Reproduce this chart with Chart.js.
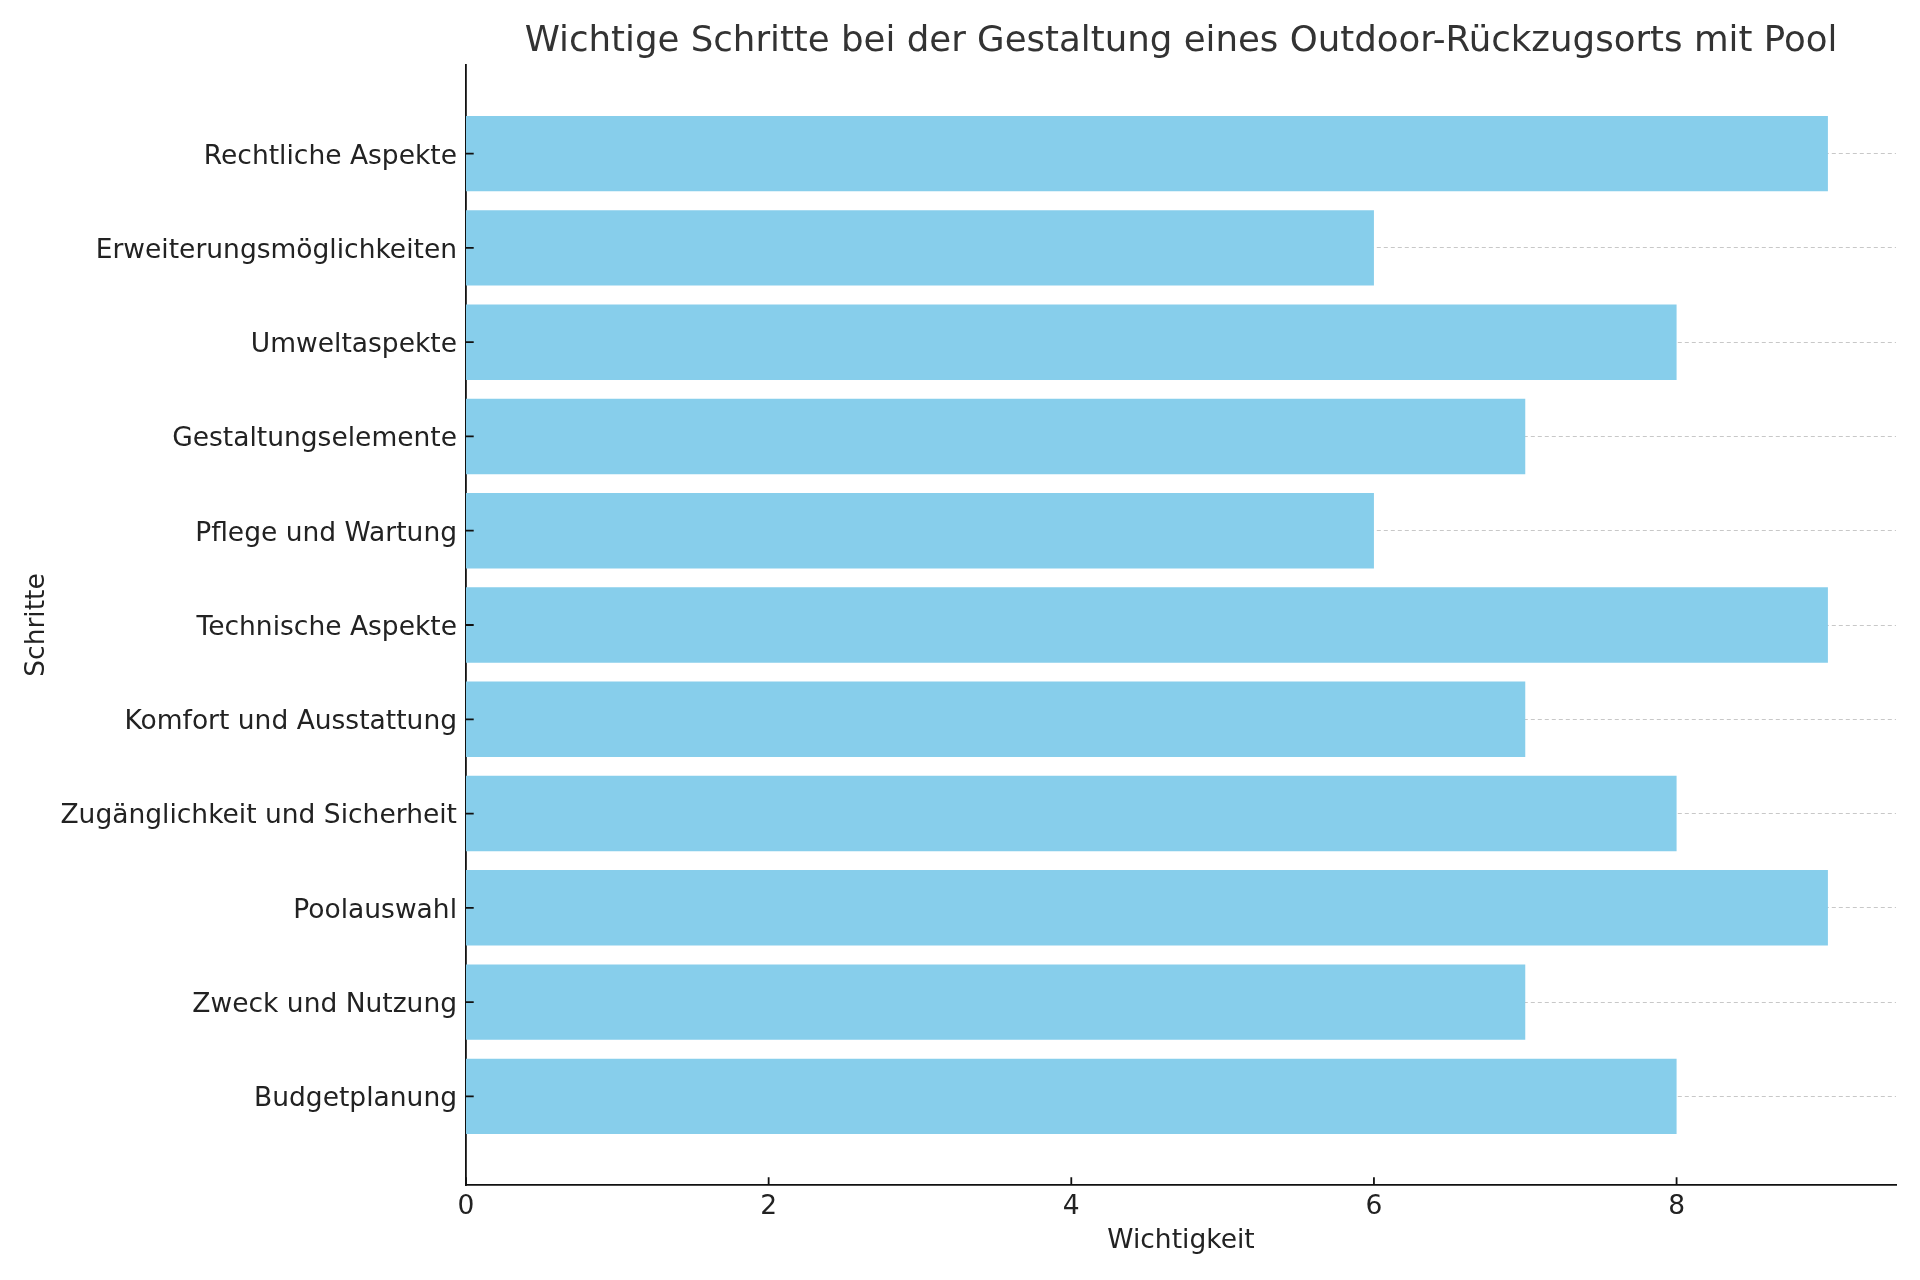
<!DOCTYPE html>
<html>
<head>
<meta charset="utf-8">
<script src="https://cdn.jsdelivr.net/npm/chart.js@4/dist/chart.umd.min.js"></script>
<style>
html,body{margin:0;padding:0;background:#fff;}
#wrap{width:1920px;height:1280px;}
</style>
</head>
<body>
<div id="wrap"><canvas id="c" width="1920" height="1280"></canvas></div>
<script>
const chartTitle = 'Wichtige Schritte bei der Gestaltung eines Outdoor-Rückzugsorts mit Pool';
const xAxisTitle = 'Wichtigkeit';
const yAxisTitle = 'Schritte';
// bottom to top
const categories = [
  'Budgetplanung',
  'Zweck und Nutzung',
  'Poolauswahl',
  'Zugänglichkeit und Sicherheit',
  'Komfort und Ausstattung',
  'Technische Aspekte',
  'Pflege und Wartung',
  'Gestaltungselemente',
  'Umweltaspekte',
  'Erweiterungsmöglichkeiten',
  'Rechtliche Aspekte'
];
const importance = [8, 7, 9, 8, 7, 9, 6, 7, 8, 6, 9];
const xTicks = [0, 2, 4, 6, 8];

Chart.defaults.font.family = "'DejaVu Sans', sans-serif";
Chart.defaults.color = '#222';

const barData = categories.map((c, i) => ({ x: importance[i], y: i }));

const titlePlugin = {
  id: 'customTitle',
  afterDraw(chart) {
    const { ctx, chartArea } = chart;
    ctx.save();
    ctx.font = "35.6px 'DejaVu Sans', sans-serif";
    ctx.fillStyle = '#333';
    ctx.textAlign = 'center';
    ctx.textBaseline = 'middle';
    ctx.fillText(chartTitle, (chartArea.left + chartArea.right) / 2, 42);
    ctx.restore();
  }
};

const inTicksPlugin = {
  id: 'inTicks',
  afterDatasetsDraw(chart) {
    const { ctx, chartArea, scales } = chart;
    const len = 7.7;
    ctx.save();
    ctx.strokeStyle = '#111';
    ctx.lineWidth = 1.8;
    ctx.beginPath();
    xTicks.forEach(v => {
      const px = scales.x.getPixelForValue(v);
      ctx.moveTo(px, chartArea.bottom);
      ctx.lineTo(px, chartArea.bottom - len);
    });
    categories.forEach((c, i) => {
      const py = scales.y.getPixelForValue(i);
      ctx.moveTo(chartArea.left, py);
      ctx.lineTo(chartArea.left + len, py);
    });
    ctx.stroke();
    ctx.restore();
  }
};

new Chart(document.getElementById('c'), {
  type: 'bar',
  data: {
    datasets: [{
      data: barData,
      backgroundColor: '#87CEEB',
      borderWidth: 0,
      barPercentage: 0.8,
      categoryPercentage: 1.0
    }]
  },
  options: {
    indexAxis: 'y',
    responsive: false,
    animation: false,
    layout: { padding: { top: 65, right: 24, left: 0, bottom: 0 } },
    plugins: { legend: { display: false }, tooltip: { enabled: false }, title: { display: false } },
    scales: {
      x: {
        type: 'linear',
        min: 0,
        max: 9.45,
        afterFit(s) { s.height = 95; },
        afterBuildTicks(s) { s.ticks = xTicks.map(v => ({ value: v })); },
        ticks: { font: { size: 26.5 }, color: '#222', padding: 6, maxRotation: 0 },
        grid: { display: false, drawTicks: false },
        border: { display: true, color: '#111', width: 1.8 },
        title: { display: true, text: xAxisTitle, font: { size: 26.5 }, color: '#222', padding: { top: 0, bottom: 23 } }
      },
      y: {
        type: 'linear',
        min: -0.94,
        max: 10.94,
        offset: false,
        afterFit(s) { s.width = 466; },
        afterBuildTicks(s) { s.ticks = categories.map((c, i) => ({ value: i })); },
        ticks: {
          font: { size: 26.5 }, color: '#222', padding: 9, labelOffset: 3,
          callback: (v) => categories[v] !== undefined ? categories[v] : ''
        },
        grid: { display: true, offset: false, drawTicks: false, color: '#c8c8c8', lineWidth: 1 },
        border: { display: true, color: '#111', width: 1.8, dash: [4, 3] },
        title: { display: true, text: yAxisTitle, font: { size: 26.5 }, color: '#222', padding: { top: 21, bottom: 0 } }
      }
    }
  },
  plugins: [titlePlugin, inTicksPlugin]
});
</script>
</body>
</html>
